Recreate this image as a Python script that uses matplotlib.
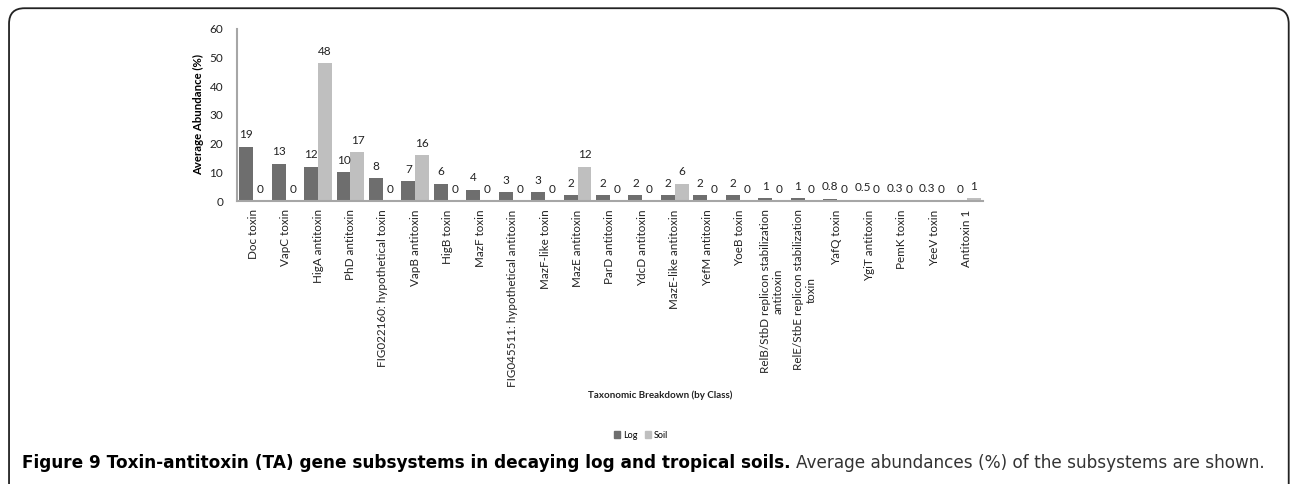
import numpy as np
import matplotlib
matplotlib.use('Agg')
import matplotlib.pyplot as plt
from matplotlib.patches import FancyBboxPatch, Patch

categories = ['Doc toxin', 'VapC toxin', 'HigA antitoxin', 'PhD antitoxin',
              'FIG022160: hypothetical toxin', 'VapB antitoxin', 'HigB toxin',
              'MazF toxin', 'FIG045511: hypothetical antitoxin', 'MazF-like toxin',
              'MazE antitoxin', 'ParD antitoxin', 'YdcD antitoxin',
              'MazE-like antitoxin', 'YefM antitoxin', 'YoeB toxin',
              'RelB/StbD replicon stabilization\nantitoxin',
              'RelE/StbE replicon stabilization\ntoxin',
              'YafQ toxin', 'YgiT antitoxin', 'PemK toxin', 'YeeV toxin', 'Antitoxin 1']
log_vals = [19, 13, 12, 10, 8, 7, 6, 4, 3, 3, 2, 2, 2, 2, 2, 2, 1, 1, 0.8, 0.5, 0.3, 0.3, 0]
soil_vals = [0, 0, 48, 17, 0, 16, 0, 0, 0, 0, 12, 0, 0, 6, 0, 0, 0, 0, 0, 0, 0, 0, 1]
log_text = ['19', '13', '12', '10', '8', '7', '6', '4', '3', '3', '2', '2', '2', '2',
            '2', '2', '1', '1', '0.8', '0.5', '0.3', '0.3', '0']
soil_text = ['0', '0', '48', '17', '0', '16', '0', '0', '0', '0', '12', '0', '0', '6',
             '0', '0', '0', '0', '0', '0', '0', '0', '1']

plt.rcParams['font.family'] = ['Lato', 'DejaVu Sans']
log_color = '#6e6e6e'
soil_color = '#bfbfbf'
axis_color = '#a6a6a6'

fig = plt.figure(figsize=(12.9, 4.84), dpi=100)
ax = fig.add_axes([0.1837, 0.5847, 0.5783, 0.3554])

x = np.arange(len(categories))
w = 0.43
ax.bar(x - w / 2, log_vals, w, color=log_color, label='Log')
ax.bar(x + w / 2, soil_vals, w, color=soil_color, label='Soil')

for i in range(len(categories)):
    ax.text(x[i] - w / 2, log_vals[i] + 2.2, log_text[i], ha='center', va='bottom',
            fontsize=8.5, color='#222222')
    ax.text(x[i] + w / 2, soil_vals[i] + 2.2, soil_text[i], ha='center', va='bottom',
            fontsize=8.5, color='#222222')

ax.set_xlim(-0.5, len(categories) - 0.5)
ax.set_ylim(0, 60)
ax.set_yticks(range(0, 61, 10))
ax.set_xticks(x)
ax.set_xticklabels(categories, rotation=90, ha='center', va='top', fontsize=8.4,
                   multialignment='center')
ax.tick_params(axis='y', length=0, labelsize=8.5, colors='#222222', pad=10)
ax.tick_params(axis='x', length=0, colors='#222222', pad=6)
for s in ['top', 'right']:
    ax.spines[s].set_visible(False)
for s in ['left', 'bottom']:
    ax.spines[s].set_color(axis_color)
    ax.spines[s].set_linewidth(1.5)
ax.set_ylabel('Average Abundance (%)', fontsize=8.2, fontweight='bold', labelpad=4)

fig.text(0.512, 0.183, 'Taxonomic Breakdown (by Class)', ha='center', va='center',
         fontsize=7, fontweight='bold', color='#222222')

fig.legend(handles=[Patch(color=log_color, label='Log'), Patch(color=soil_color, label='Soil')],
           loc='center', bbox_to_anchor=(0.497, 0.101), ncol=2, frameon=False,
           fontsize=6.5, handlelength=0.7, handleheight=0.7, handletextpad=0.3,
           columnspacing=0.8)

# caption
cap_font = ['DejaVu Sans']
t1 = fig.text(0.017, 0.043, 'Figure 9 Toxin-antitoxin (TA) gene subsystems in decaying log and tropical soils.',
              fontsize=12.2, fontweight='bold', va='center', ha='left', family=cap_font)
fig.canvas.draw()
bb = t1.get_window_extent()
fig.text(bb.x1 / fig.bbox.width + 0.004, 0.043,
         'Average abundances (%) of the subsystems are shown.',
         fontsize=12.2, va='center', ha='left', color='#333333', family=cap_font)

frame = FancyBboxPatch((0.007, -0.05), 0.992, 1.033, boxstyle='round,pad=0,rounding_size=0.012',
                       transform=fig.transFigure, fill=False, edgecolor='#222222', linewidth=1.3,
                       mutation_aspect=1290 / 484)
fig.patches.append(frame)

fig.savefig('out.png', dpi=100)
